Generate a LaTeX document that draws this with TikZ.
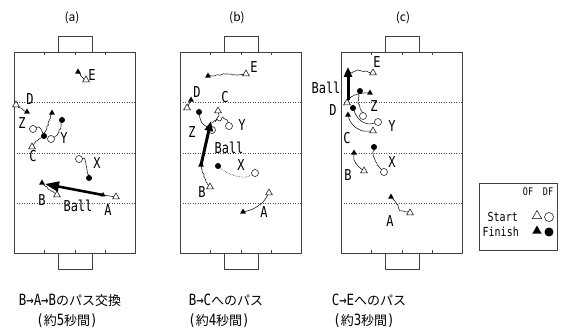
\documentclass[tikz,border=0pt]{standalone}
\usepackage{fontspec}
\setmainfont{Noto Sans CJK JP}
\newfontfamily\jpf{Noto Sans CJK JP}
\newfontfamily\lbf[FakeStretch=0.8]{DejaVu Sans Mono}
\usetikzlibrary{shapes.geometric,arrows.meta,decorations.pathmorphing,backgrounds}
\newcommand\hw[1]{{\lbf\fontsize{15.5}{15.5}\selectfont #1}}
\tikzset{
 lab/.style={font=\lbf\fontsize{15}{15}\selectfont, inner sep=0pt},
 leglab/.style={font=\lbf\fontsize{12.5}{12.5}\selectfont, inner sep=0pt},
 smlab/.style={font=\lbf\fontsize{10.5}{10.5}\selectfont, inner sep=0pt},
 ttl/.style={font=\jpf\fontsize{12}{12}\selectfont, inner sep=0pt},
 captxt/.style={font=\jpf\fontsize{13}{13}\selectfont, inner sep=0pt},
 ofs/.style={regular polygon, regular polygon sides=3, draw, fill=white, line width=0.5pt, minimum size=8pt, inner sep=0pt},
 off/.style={regular polygon, regular polygon sides=3, fill=black, minimum size=7pt, inner sep=0pt},
 dfs/.style={circle, draw, fill=white, line width=0.5pt, minimum size=7pt, inner sep=0pt},
 dff/.style={circle, fill=black, minimum size=6pt, inner sep=0pt},
 trk/.style={line width=0.5pt},
 zig/.style={trk, decorate, decoration={random steps, segment length=1.6pt, amplitude=0.7pt}},
 dtrk/.style={trk, densely dotted},
 ball/.style={line width=3pt, -{Triangle[length=10pt,width=8pt]}},
 pline/.style={line width=0.5pt, black!75},
 hline/.style={line width=0.5pt, black!70, dotted},
}
\begin{document}
\begin{tikzpicture}[x=1pt,y=-1pt]
\useasboundingbox (0,0) rectangle (568,331);

% titles
\node[ttl] (ta) at (72,18) {(a)};
\node[ttl] (tb) at (237,18) {(b)};
\node[ttl] (tc) at (403,18) {(c)};

% ---------------- field (a) ----------------
\node[ofs] (aEs) at (86,80) {};
\node[off] (aEf) at (78,72) {};
\node[ofs] (aDs) at (16,105) {};
\node[off] (aDf) at (27,112) {};
\node[dfs] (aZs) at (33,129) {};
\node[dff] (aZf) at (44,136) {};
\node[ofs] (aCs) at (32,147) {};
\node[off] (aCf) at (52,113) {};
\node[dfs] (aYs) at (51,139) {};
\node[dff] (aYf) at (62,120) {};
\node[dfs] (aXs) at (79,159) {};
\node[dff] (aXf) at (89,178) {};
\node[ofs] (aBs) at (57,195) {};
\node[off] (aBf) at (42,183) {};
\node[ofs] (aAs) at (116,197) {};
\node[off, minimum size=6pt] (aAf) at (103,195) {};

\node[lab] (aE) at (92,75) {E};
\node[lab] (aD) at (30,99) {D};
\node[lab] (aZ) at (22,123) {Z};
\node[lab] (aY) at (64,138) {Y};
\node[lab] (aC) at (33,156) {C};
\node[lab] (aX) at (97,163) {X};
\node[lab] (aB) at (42,200) {B};
\node[lab] (aBall) at (78,206) {Ball};
\node[lab] (aA) at (108,210) {A};

% ---------------- field (b) ----------------
\node[ofs] (bEs) at (246,74) {};
\node[off] (bEf) at (208,76) {};
\node[ofs] (bDs) at (187,108) {};
\node[off] (bDf) at (191,100) {};
\node[ofs] (bCs) at (218,111) {};
\coordinate (bCf) at (212,123);
\node[dfs] (bYs) at (229,126) {};
\coordinate (bYf) at (215,122);
\node[dfs] (bZs) at (212,130) {};
\node[dff] (bZf) at (199,112) {};
\node[ofs] (bBs) at (210,187) {};
\node[off] (bBf) at (201,165) {};
\node[dfs] (bXs) at (255,173) {};
\node[dff] (bXf) at (218,166) {};
\node[ofs] (bAs) at (269,193) {};
\node[off] (bAf) at (243,212) {};

\node[lab] (bE) at (254,67) {E};
\node[lab] (bD) at (197,92) {D};
\node[lab] (bC) at (225,97) {C};
\node[lab] (bY) at (242,125) {Y};
\node[lab] (bZ) at (192,132) {Z};
\node[lab] (bBall) at (229,148) {Ball};
\node[lab] (bX) at (241,165) {X};
\node[lab] (bB) at (202,192) {B};
\node[lab] (bA) at (264,212) {A};

% ---------------- field (c) ----------------
\node[ofs] (cEs) at (373,73) {};
\node[off] (cEf) at (348,72) {};
\node[ofs] (cDs) at (347,103) {};
\node[off] (cDf) at (370,93) {};
\node[dfs] (cZs) at (363,116) {};
\node[dff] (cZf) at (360,91) {};
\node[ofs] (cCs) at (373,131) {};
\node[off] (cCf) at (348,115) {};
\node[dfs] (cYs) at (378,122) {};
\node[dff] (cYf) at (353,108) {};
\node[dfs] (cXs) at (384,172) {};
\node[dff] (cXf) at (374,147) {};
\node[ofs] (cBs) at (364,171) {};
\node[off] (cBf) at (354,153) {};
\node[ofs] (cAs) at (410,213) {};
\node[off] (cAf) at (391,197) {};

\node[lab] (cE) at (377,62) {E};
\node[lab] (cBall) at (326,88) {Ball};
\node[lab] (cD) at (333,110) {D};
\node[lab] (cZ) at (374,106) {Z};
\node[lab] (cY) at (392,126) {Y};
\node[lab] (cC) at (347,138) {C};
\node[lab] (cX) at (392,162) {X};
\node[lab] (cB) at (348,175) {B};
\node[lab] (cA) at (390,221) {A};

% ---------------- background: fields and tracks ----------------
\begin{scope}[on background layer]
\fill[white] (0,0) rectangle (568,331);
\foreach \L in {14,180,341} {
  \draw[pline] (\L,52) rectangle (\L+121.5,253);
  \draw[pline] (\L+43.75,52) -- (\L+43.75,36) -- (\L+77.75,36) -- (\L+77.75,52);
  \draw[pline] (\L+43.75,253) -- (\L+43.75,269) -- (\L+77.75,269) -- (\L+77.75,253);
  \foreach \f in {0.25,0.5,0.75} {
    \draw[pline] (\L+121.5*\f,52) -- (\L+121.5*\f,55);
    \draw[pline] (\L+121.5*\f,253) -- (\L+121.5*\f,250);
  }
  \foreach \yy in {102.5,153,203} {
    \draw[hline] (\L,\yy) -- (\L+121.5,\yy);
  }
}
% tracks (a)
\draw[zig] (aEs.center) -- (82,77) -- (aEf.center);
\draw[zig] (aDs.center) -- (21,108) -- (aDf.center);
\draw[trk] plot[smooth] coordinates {(aZs.center) (39,127) (42,131) (aZf.center)};
\draw[zig] (aCs.center) -- (36,141) -- (41,138) -- (44,133) -- (47,128) -- (49,121) -- (aCf.center);
\draw[zig] (aYs.center) -- (56,136) -- (59,132) -- (61,126) -- (aYf.center);
\draw[zig] (aXs.center) -- (84,158) -- (86,163) -- (87,170) -- (aXf.center);
\draw[zig] (aBs.center) -- (50,190) -- (aBf.center);
\draw[trk] (aAs.center) -- (aAf.center);
% tracks (b)
\draw[zig] (bEs.center) -- (236,75) -- (226,74) -- (216,75) -- (bEf.center);
\draw[trk] (bDs.center) -- (bDf.center);
\draw[zig] (bCs.center) -- (219,116) -- (216,120) -- (bCf);
\draw[zig] (bYs.center) -- (227,120) -- (223,117) -- (220,121) -- (217,119) -- (bYf);
\draw[trk] plot[smooth] coordinates {(bZs.center) (207,127) (202,123) (200,118) (bZf.center)};
\draw[zig] (bBs.center) -- (206,182) -- (204,175) -- (202,170) -- (bBf.center);
\draw[dtrk] plot[smooth] coordinates {(bXf.center) (226,172) (236,176) (246,177) (bXs.center)};
\draw[trk] plot[smooth] coordinates {(bAs.center) (263,202) (253,209) (bAf.center)};
% tracks (c)
\draw[zig] (cEs.center) -- (365,71) -- (357,70) -- (352,73) -- (cEf.center);
\draw[trk] plot[smooth] coordinates {(cDs.center) (351,97) (358,94) (364,93) (cDf.center)};
\draw[zig] (cZs.center) -- (361,110) -- (358,103) -- (359,96) -- (cZf.center);
\draw[trk] plot[smooth] coordinates {(cCs.center) (363,131) (355,127) (350,121) (cCf.center)};
\draw[trk] plot[smooth] coordinates {(cYs.center) (369,124) (361,121) (356,115) (cYf.center)};
\draw[zig] (cXf.center) -- (373,155) -- (376,162) -- (380,168) -- (cXs.center);
\draw[trk] plot[smooth] coordinates {(cBf.center) (354,160) (358,166) (cBs.center)};
\draw[zig] (cAf.center) -- (395,201) -- (398,206) -- (400,211) -- (405,212) -- (cAs.center);
\end{scope}

% ball passes
\coordinate (aBt) at (45,184);
\draw[ball, line width=2.6pt, -{Triangle[length=14pt,width=10pt]}] (aAf.center) -- (aBt);
\coordinate (bBt) at (211,121);
\draw[ball] (bBf.center) -- (bBt);
\coordinate (cBb) at (348,100);
\coordinate (cBt) at (348,67);
\draw[ball] (cBb) -- (cBt);

% legend
\node[draw, pline, minimum width=78pt, minimum height=67pt, inner sep=0pt, anchor=north west] (leg) at (479,183) {};
\node[smlab] (lOF) at (528,192) {OF};
\node[smlab] (lDF) at (548,192) {DF};
\node[leglab, anchor=east] (lSt) at (518,217) {Start};
\node[ofs, minimum size=11pt] (lS1) at (537,216) {};
\node[dfs, minimum size=9pt] (lS2) at (549,217) {};
\node[leglab, anchor=east] (lFi) at (519,232) {Finish};
\node[off, minimum size=11pt] (lF1) at (537,231) {};
\node[dff, minimum size=9pt] (lF2) at (549,232) {};

% captions
\node[captxt] (c1a) at (70,300) {\hw{B→A→B}のパス交換};
\node[captxt] (c1b) at (67,321) {\hw{(}約\hw{5}秒間\hw{)}};
\node[captxt] (c2a) at (226,300) {\hw{B→C}へのパス};
\node[captxt] (c2b) at (219,321) {\hw{(}約\hw{4}秒間\hw{)}};
\node[captxt] (c3a) at (369,300) {\hw{C→E}へのパス};
\node[captxt] (c3b) at (364,321) {\hw{(}約\hw{3}秒間\hw{)}};
\end{tikzpicture}
\end{document}
